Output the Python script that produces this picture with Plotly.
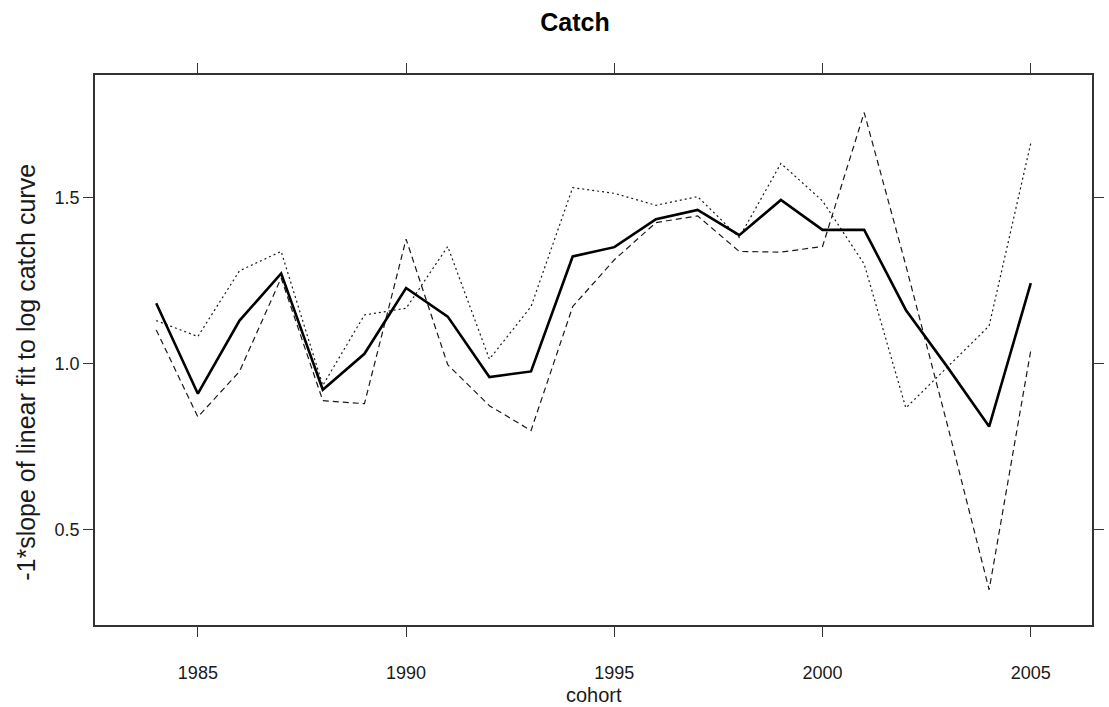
import plotly.graph_objects as go

# Cohort years and the three slope series (-1 * slope of log catch curve)
cohort = list(range(1984, 2006))
slope_solid = [1.182, 0.910, 1.130, 1.272, 0.922, 1.030, 1.228, 1.142, 0.960, 0.977, 1.323,
               1.351, 1.435, 1.463, 1.387, 1.493, 1.403, 1.403, 1.162, 0.990, 0.811, 1.243]
slope_dashed = [1.102, 0.840, 0.977, 1.258, 0.889, 0.880, 1.375, 0.997, 0.874, 0.799, 1.172,
                1.313, 1.425, 1.445, 1.338, 1.336, 1.353, 1.756, 1.296, 0.815, 0.320, 1.040]
slope_dotted = [1.130, 1.082, 1.280, 1.338, 0.935, 1.147, 1.167, 1.353, 1.014, 1.172, 1.530,
                1.513, 1.477, 1.503, 1.380, 1.603, 1.490, 1.300, 0.867, 0.990, 1.114, 1.664]

x_ticks = [1985, 1990, 1995, 2000, 2005]
y_ticks = [0.5, 1.0, 1.5]
y_tick_labels = ["0.5", "1.0", "1.5"]

FONT = "Liberation Sans, Arial, sans-serif"
INK = "#1a1a1a"

W, H = 1109, 707
L, R, T, B = 95, 5, 75, 82

fig = go.Figure()
fig.add_trace(go.Scatter(x=cohort, y=slope_dotted, mode="lines",
                         line=dict(color=INK, width=1.2, dash="2px,3px")))
fig.add_trace(go.Scatter(x=cohort, y=slope_dashed, mode="lines",
                         line=dict(color=INK, width=1.2, dash="6px,4px")))
fig.add_trace(go.Scatter(x=cohort, y=slope_solid, mode="lines",
                         line=dict(color="black", width=2.6)))

fig.update_layout(
    width=W, height=H,
    margin=dict(l=L, r=R, t=T, b=B),
    plot_bgcolor="white", paper_bgcolor="white",
    showlegend=False,
    font=dict(family=FONT, color=INK),
    title=dict(text="<b>Catch</b>", x=575 / W, xanchor="center",
               y=1 - 22 / H, yanchor="middle",
               font=dict(family=FONT, size=25, color="black")),
)

fig.update_xaxes(
    range=[1982.53, 2006.47], tickvals=x_ticks, ticktext=[str(v) for v in x_ticks],
    ticks="outside", ticklen=10, tickwidth=1, tickcolor="#333",
    showline=True, linecolor="#333", linewidth=1.5, mirror="ticks",
    showgrid=False, zeroline=False, ticklabelstandoff=21,
    tickfont=dict(family=FONT, size=18, color=INK),
)
fig.update_yaxes(
    range=[0.214, 1.869], tickvals=y_ticks, ticktext=y_tick_labels,
    ticks="outside", ticklen=10, tickwidth=1, tickcolor="#333",
    showline=True, linecolor="#333", linewidth=1.5, mirror="ticks",
    showgrid=False, zeroline=False,
    tickfont=dict(family=FONT, size=18, color=INK),
)

# Axis titles
fig.add_annotation(text="cohort", xref="paper", yref="paper",
                   x=0.5, y=-(695 - (H - B)) / (H - T - B), xanchor="center", yanchor="middle",
                   showarrow=False, font=dict(family=FONT, size=20, color=INK))
fig.add_annotation(text="-1*slope of linear fit to log catch curve", xref="paper", yref="paper",
                   x=-(L - 25) / (W - L - R), y=((H - B) - 372) / (H - T - B),
                   xanchor="center", yanchor="middle", textangle=-90,
                   showarrow=False, font=dict(family=FONT, size=25, color=INK))

fig.write_html("out.html", config={"displayModeBar": False})
